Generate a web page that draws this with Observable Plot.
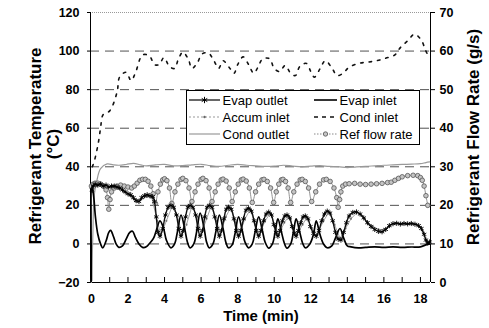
<!DOCTYPE html>
<html>
<head>
<meta charset="utf-8">
<script src="https://cdn.jsdelivr.net/npm/d3@7"></script>
<script src="https://cdn.jsdelivr.net/npm/@observablehq/plot@0.6"></script>
<style>
  html, body { margin: 0; padding: 0; background: #fff; }
  #chart { width: 489px; height: 328px; }
  #chart svg text { font-weight: bold; }
</style>
</head>
<body>
<div id="chart"></div>
<script>
// ---- Axis ticks / labels ----
const leftTicks = [-20, 0, 20, 40, 60, 80, 100, 120];
const rightTickLabels = [0, 10, 20, 30, 40, 50, 60, 70];
const gridTemps = [0, 20, 40, 60, 80, 100];
const timeLabelTicks = [0, 2, 4, 6, 8, 10, 12, 14, 16, 18];
const timeMinorTicks = [0, 1, 2, 3, 4, 5, 6, 7, 8, 9, 10, 11, 12, 13, 14, 15, 16, 17, 18];
const timeDomain = [-0.05, 18.55];
const tempDomain = [-20, 120];
const flowDomain = [0, 70];

// ---- Series: Cond inlet (°C) ----
const condInletTime = [0.05,0.16,0.37,0.5,0.64,1.0,1.4,1.55,1.9,2.17,2.4,2.8,3.17,3.45,3.7,3.97,4.27,4.56,4.74,5.0,5.3,5.5,5.8,6.05,6.4,6.7,6.96,7.2,7.55,7.8,8.0,8.3,8.6,8.88,9.1,9.37,9.75,10.0,10.3,10.6,10.9,11.16,11.4,11.76,12.0,12.2,12.5,12.8,13.17,13.44,13.77,14.07,14.6,15.08,15.6,16.1,16.6,16.9,17.3,17.67,18.04,18.27,18.4];
const condInletTemp = [40,43,52,60,67,69,78.6,86.7,89,84.7,88.5,98,97.5,93,93,96.6,92,91,95.4,99.4,95.8,91,94,98.5,99,95,91,95,91.4,88.5,93,97,93,88.5,91.4,96,96,91,89.4,92.5,88.5,87.3,92,93.6,89.4,86.5,90.7,95,91,87.3,88.5,91.4,93.6,94.2,95,96.3,98,101.8,105.3,108.7,105.8,100.6,98];

// ---- Series: Cond outlet (°C) ----
const condOutletTime = [0.0,0.08,0.15,0.3,0.5,0.86,1.2,1.5,1.9,2.3,2.7,3.0,3.5,4.0,4.5,5.0,5.5,6.0,6.5,7.0,7.5,8.0,8.5,9.0,9.5,10.0,10.5,11.0,11.5,12.0,12.5,13.0,13.5,14.0,14.5,15.0,15.5,16.0,16.5,17.0,17.5,18.0,18.3,18.5];
const condOutletTemp = [-20,5,25,33,39,41.5,41,40.8,41.2,41.8,41,40.5,41,41.2,40.5,40.6,41,41.3,40.6,40.2,40.8,41.2,40.8,40.5,40.2,40.3,40.8,40.4,40,40.3,40.6,40.2,40.1,39.6,40,40.2,40.5,40.8,41,41.2,41.4,41.6,42.2,42.5];

// ---- Series: Evap inlet (°C) ----
const evapInletTime = [0.0,0.03,0.12,0.22,0.35,0.5,0.62,0.8,0.95,1.05,1.2,1.35,1.5,1.7,1.9,2.1,2.25,2.4,2.6,2.8,3.0,3.2,3.4,3.55,3.75,3.95,4.1,4.35,4.55,4.7,4.9,5.1,5.25,5.4,5.6,5.75,5.95,6.15,6.3,6.45,6.65,6.8,7.0,7.2,7.35,7.5,7.7,7.85,8.05,8.25,8.4,8.6,8.8,8.95,9.15,9.35,9.5,9.7,9.9,10.05,10.2,10.4,10.55,10.7,10.9,11.05,11.2,11.4,11.55,11.7,11.95,12.15,12.3,12.5,12.7,12.9,13.15,13.35,13.6,13.8,14.0,14.2,14.6,15.0,15.5,16.0,16.5,17.0,17.5,18.0,18.3,18.5];
const evapInletTemp = [-19,30,25,14,5,0,-2,1.5,6,7,4,0,-1.8,-1,2.5,6,6.6,3.5,0,-1.8,-1.5,0.5,3,7,12,8,2,-2,0,6,15,8,1,-2,0,6,16,9,1,-2,0,6,15,8,1,-2,-0.5,5,14,7,1,-2,0,6,14,7,1,-2.2,0,6,13,6,0.5,-2.2,0,6,13,6,0.5,-2,0,5,12,5,0,-2,-1,3,8,3,-1,-1.5,-2,-1.8,-1.5,-1.8,-1.5,-1.8,-1.6,-1.5,-0.5,0];

// ---- Series: Evap outlet (°C) ----
const evapOutletTime = [0.03,0.1,0.2,0.35,0.5,0.65,0.8,0.95,1.1,1.25,1.4,1.55,1.7,1.85,2.0,2.15,2.3,2.45,2.6,2.75,2.9,3.05,3.2,3.35,3.45,3.55,3.65,3.75,3.9,4.05,4.2,4.35,4.5,4.65,4.78,4.9,5.02,5.15,5.28,5.4,5.55,5.7,5.83,5.95,6.08,6.2,6.33,6.45,6.6,6.75,6.88,7.0,7.12,7.25,7.38,7.5,7.65,7.8,7.93,8.05,8.18,8.32,8.46,8.6,8.75,8.9,9.02,9.15,9.28,9.42,9.56,9.7,9.85,9.98,10.1,10.2,10.32,10.45,10.58,10.7,10.85,10.98,11.1,11.2,11.32,11.45,11.58,11.7,11.85,11.98,12.15,12.3,12.45,12.6,12.75,12.9,13.05,13.2,13.35,13.5,13.65,13.8,13.95,14.1,14.3,14.5,14.7,14.9,15.1,15.3,15.5,15.7,15.9,16.1,16.3,16.5,16.7,16.9,17.1,17.3,17.5,17.7,17.9,18.05,18.2,18.3,18.4,18.5];
const evapOutletTemp = [28,30,31,30.5,31,30,30.5,29.5,30,30,29.5,29,28,27,26,25.5,24,22.5,22,24,25,25.5,25,24.5,22,14,6,4,8,15,19,20,19,15,8,4,7,14,19,20,19,15,8,4,7,14,19,20,19,14,8,4,7,13,18,19,18,13,7,4,7,13,17.5,18.5,17,12,7,4,7,12,15.5,16.5,15,10,6,4,7,12,14.5,15,13.5,9,5.5,4,7,11,14,14.5,13,9,5.5,4,7,12,15.5,17,16,12,6,2.5,2,6,11,14.5,16.3,16.6,15.5,13.5,11,9,7.5,6.5,6.3,7.5,9.5,10.5,10.7,10.3,10.6,10.4,10.6,10.2,9.5,8,5,2,0.5,1];

// ---- Series: Accum inlet (°C) ----
const accumInletTime = [0.05,0.3,0.6,0.9,1.2,1.5,1.8,2.1,2.4,2.7,3.0,3.3,3.6,3.8,4.1,4.4,4.7,4.95,5.2,5.5,5.8,6.0,6.3,6.55,6.85,7.05,7.35,7.6,7.9,8.1,8.4,8.7,8.95,9.2,9.5,9.8,10.05,10.25,10.55,10.8,11.05,11.25,11.55,11.8,12.05,12.35,12.7,13.0,13.3,13.6,13.9,14.2,14.5,14.8,15.1,15.4,15.7,16.0,16.3,16.6,16.9,17.2,17.5,17.8,18.1,18.3,18.5];
const accumInletTemp = [27,30,30,29,29.5,28.5,27,25,22,23,24.5,24,12,4.5,12,19,15,5,10,19.5,14,5,13,19.5,12,5,14,18.5,11,5,13,18,10,5,12,16,9,5,11,14.5,8,5,10,14,8,5,12,16.5,10,3,8,13,16,14.5,11.5,9,7.5,7.5,9,10.5,10.5,10.5,10.5,10,7,2,0.5];

// ---- Series: Ref flow rate (g/s, right axis) ----
const refFlowTime = [0.0,0.1,0.2,0.35,0.5,0.65,0.8,0.88,0.95,1.02,1.1,1.25,1.4,1.6,1.8,2.0,2.2,2.35,2.5,2.65,2.8,2.95,3.1,3.25,3.38,3.5,
  3.64,3.77,3.9,4.0,4.13,4.27,4.4,
  4.57,4.73,4.9,5.0,5.17,5.34,5.5,
  5.67,5.83,6.0,6.1,6.27,6.44,6.6,
  6.77,6.93,7.1,7.2,7.37,7.54,7.7,
  7.87,8.03,8.2,8.3,8.47,8.64,8.8,
  8.98,9.15,9.33,9.44,9.62,9.8,9.97,
  10.11,10.25,10.39,10.48,10.62,10.76,10.9,
  11.07,11.25,11.42,11.53,11.7,11.88,12.05,
  12.27,12.48,12.7,12.85,13.06,13.27,13.42,13.5,
  13.58,13.65,13.75,13.9,14.1,14.4,14.7,15.0,15.3,15.6,15.9,16.2,16.4,16.6,16.8,17.0,17.3,17.6,17.85,18.0,18.1,18.2,18.3,18.4];
const refFlowRate = [25,25.5,25.75,25.75,25.5,25,24,22,19,21.5,23.5,24.5,25,25.25,25,24.75,24.5,25,25.75,26.5,26.75,26.75,26.25,25,23,20.5,
  23.5,25.5,26.6,26.9,26.4,24.5,20.5,
  23.5,25.5,26.7,27,26.4,24.5,21,
  23.5,25.5,26.7,27,26.4,24.5,21,
  23.5,25.5,26.6,26.8,26.3,24.5,21,
  23.5,25.5,26.6,26.8,26.3,24.5,20.75,
  23.5,25.5,26.6,26.75,26.2,24.5,20.75,
  23.5,25.5,26.6,26.75,26.2,24.5,20.75,
  23.5,25.5,26.6,26.75,26.2,24.5,21,
  23.5,25.5,26.6,26.75,26.2,24.5,22,19.5,
  21.5,23.5,25,25.5,25.6,25.7,25.5,25.4,25.5,25.6,25.7,25.9,26,26.5,27,27.4,27.7,27.8,27.7,27.2,26.5,25,22.5,20];

// ---- Build tables ----
const zip = (ts, vs) => ts.map((t, i) => ({t, v: vs[i]}));
const condInlet = zip(condInletTime, condInletTemp);
const condOutlet = zip(condOutletTime, condOutletTemp);
const evapInlet = zip(evapInletTime, evapInletTemp);
const evapOutlet = zip(evapOutletTime, evapOutletTemp);
const accumInlet = zip(accumInletTime, accumInletTemp);
const refFlow = zip(refFlowTime, refFlowRate);
// map right-axis flow onto the left temperature scale (dual axis)
const flowToTemp = f => tempDomain[0] + (f - flowDomain[0]) * (tempDomain[1] - tempDomain[0]) / (flowDomain[1] - flowDomain[0]);

const FONT = "'Liberation Sans', Arial, Helvetica, sans-serif";

const plot = Plot.plot({
  width: 489,
  height: 328,
  marginLeft: 90,
  marginRight: 59,
  marginTop: 12,
  marginBottom: 46,
  x: {domain: timeDomain},
  y: {domain: tempDomain},
  style: {fontFamily: FONT, fontSize: "12.5px", fontWeight: "bold", background: "#fff", color: "#000", overflow: "visible"},
  marks: [
    Plot.ruleY(gridTemps, {stroke: "#333", strokeWidth: 1, strokeDasharray: "9,6", strokeOpacity: 0.85}),
    Plot.ruleY([tempDomain[1]], {stroke: "#999", strokeDasharray: "1,1"}),
    Plot.ruleY([tempDomain[0]], {stroke: "#000", strokeWidth: 1}),
    Plot.ruleX([timeDomain[0]], {stroke: "#000", strokeWidth: 1}),
    Plot.ruleX([timeDomain[1]], {stroke: "#000", strokeWidth: 1}),
    // Cond outlet
    Plot.line(condOutlet, {x: "t", y: "v", stroke: "#9a9a9a", strokeWidth: 1.2, curve: "catmull-rom"}),
    // Cond inlet
    Plot.line(condInlet, {x: "t", y: "v", stroke: "#111", strokeWidth: 1.6, strokeDasharray: "2.5,6", curve: "catmull-rom"}),
    // Ref flow rate
    Plot.line(refFlow, {x: "t", y: d => flowToTemp(d.v), stroke: "#888", strokeWidth: 0.9, curve: "catmull-rom"}),
    Plot.dot(refFlow, {x: "t", y: d => flowToTemp(d.v), r: 2.3, fill: "#c4c4c4", stroke: "#555", strokeWidth: 0.8}),
    // Accum inlet
    Plot.line(accumInlet, {x: "t", y: "v", stroke: "#999", strokeWidth: 0.9}),
    Plot.dot(accumInlet, {x: "t", y: "v", r: 1.1, fill: "#777"}),
    // Evap inlet
    Plot.line(evapInlet, {x: "t", y: "v", stroke: "#000", strokeWidth: 1.7, curve: "catmull-rom"}),
    // Evap outlet
    Plot.line(evapOutlet, {x: "t", y: "v", stroke: "#111", strokeWidth: 1.4, curve: "catmull-rom"}),
    Plot.dot(evapOutlet, {x: "t", y: "v", symbol: "asterisk", r: 2.4, stroke: "#000", strokeWidth: 0.9}),
    // Axes
    Plot.axisY(leftTicks, {anchor: "left", tickSize: 3, tickPadding: 8, label: null, fontWeight: "bold", fontSize: 12.5}),
    Plot.axisY(leftTicks, {anchor: "right", tickSize: 4, tickPadding: 5, label: null, fontWeight: "bold", fontSize: 12.5,
      tickFormat: d => rightTickLabels[leftTicks.indexOf(d)]}),
    Plot.axisX(timeMinorTicks, {anchor: "bottom", tickSize: 5, dy: -5, tickFormat: () => "", label: null}),
    Plot.axisX(timeLabelTicks, {anchor: "bottom", tickSize: 0, tickPadding: 12, label: null, fontWeight: "bold", fontSize: 12.5})
  ]
});

document.getElementById("chart").appendChild(plot);

// ---- Axis titles and legend ----
const svg = d3.select(plot);
const titleG = svg.append("g").attr("font-family", FONT).attr("font-weight", "bold").attr("fill", "#000").attr("text-anchor", "middle");
titleG.append("text").attr("transform", "translate(35,146) rotate(-90)")
  .attr("dominant-baseline", "central").attr("font-size", 17)
  .text("Refrigerant Temperature");
titleG.append("text").attr("transform", "translate(53,144) rotate(-90)")
  .attr("dominant-baseline", "central").attr("font-size", 17)
  .text("(°C)");
titleG.append("text").attr("transform", "translate(473,137) rotate(-90)")
  .attr("dominant-baseline", "central").attr("font-size", 17)
  .text("Refrigerant Flow Rate (g/s)");
titleG.append("text").attr("x", 261).attr("y", 315)
  .attr("dominant-baseline", "central").attr("font-size", 15)
  .text("Time (min)");

const legendItems = [
  {label: "Evap outlet", col: 0, row: 0, stroke: "#000", width: 1.2, dash: null, marker: "asterisk"},
  {label: "Evap inlet", col: 1, row: 0, stroke: "#000", width: 1.6, dash: null, marker: null},
  {label: "Accum inlet", col: 0, row: 1, stroke: "#999", width: 1, dash: "2,2", marker: "dot"},
  {label: "Cond inlet", col: 1, row: 1, stroke: "#111", width: 1.5, dash: "4,4", marker: null},
  {label: "Cond outlet", col: 0, row: 2, stroke: "#9a9a9a", width: 1.2, dash: null, marker: null},
  {label: "Ref flow rate", col: 1, row: 2, stroke: "#888", width: 1, dash: "1.5,1.5", marker: "circle"}
];
const lg = svg.append("g").attr("font-family", FONT).attr("font-size", 13).attr("text-anchor", "start");
lg.append("rect").attr("x", 186.5).attr("y", 90.5).attr("width", 233).attr("height", 54)
  .attr("fill", "#fff").attr("stroke", "#000").attr("stroke-width", 1);
const colStart = [189, 314];
const colEnd = [220, 337];
const rowY = [100, 117, 134];
legendItems.forEach(it => {
  const x0 = colStart[it.col], x1 = colEnd[it.col], y = rowY[it.row], xm = (x0 + x1) / 2;
  lg.append("line").attr("x1", x0).attr("x2", x1).attr("y1", y).attr("y2", y)
    .attr("stroke", it.stroke).attr("stroke-width", it.width).attr("stroke-dasharray", it.dash);
  if (it.marker === "asterisk") {
    lg.append("path").attr("d", d3.symbol(d3.symbolAsterisk, 28)()).attr("transform", `translate(${xm},${y})`)
      .attr("stroke", "#000").attr("fill", "none").attr("stroke-width", 1);
  } else if (it.marker === "dot") {
    lg.append("circle").attr("cx", xm).attr("cy", y).attr("r", 1.2).attr("fill", "#666");
  } else if (it.marker === "circle") {
    lg.append("circle").attr("cx", xm).attr("cy", y).attr("r", 2.2).attr("fill", "#c4c4c4").attr("stroke", "#555").attr("stroke-width", 0.8);
  }
  lg.append("text").attr("x", x1 + 2.5).attr("y", y).attr("dominant-baseline", "central")
    .attr("text-anchor", "start").attr("fill", "#000").style("font-weight", "normal").text(it.label);
});
</script>
</body>
</html>
